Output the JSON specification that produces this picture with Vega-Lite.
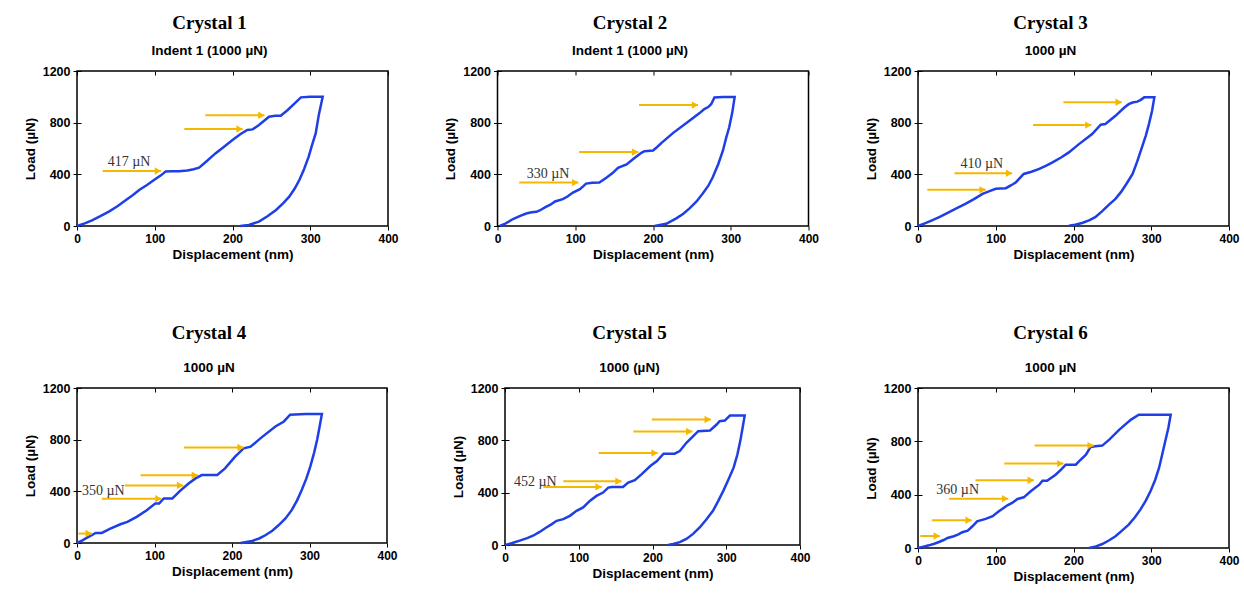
{
  "$schema": "https://vega.github.io/schema/vega-lite/v6.json",
  "padding": {"left": 22, "top": 12, "right": 0, "bottom": 0},
  "autosize": {"type": "pad"},
  "bounds": "flush",
  "spacing": 317,
  "datasets": {
    "curves": [
      {"c":1,"i":0,"x":0,"y":0},{"c":1,"i":1,"x":10,"y":20},{"c":1,"i":2,"x":20,"y":46},{"c":1,"i":3,"x":30,"y":76},{"c":1,"i":4,"x":41,"y":111},{"c":1,"i":5,"x":52,"y":153},{"c":1,"i":6,"x":63,"y":201},{"c":1,"i":7,"x":72,"y":240},{"c":1,"i":8,"x":80,"y":279},{"c":1,"i":9,"x":90,"y":318},{"c":1,"i":10,"x":99,"y":356},{"c":1,"i":11,"x":108,"y":392},{"c":1,"i":12,"x":114,"y":422},{"c":1,"i":13,"x":122,"y":424},{"c":1,"i":14,"x":131,"y":424},{"c":1,"i":15,"x":142,"y":430},{"c":1,"i":16,"x":150,"y":440},{"c":1,"i":17,"x":157,"y":452},{"c":1,"i":18,"x":166,"y":498},{"c":1,"i":19,"x":178,"y":562},{"c":1,"i":20,"x":190,"y":618},{"c":1,"i":21,"x":200,"y":666},{"c":1,"i":22,"x":210,"y":710},{"c":1,"i":23,"x":219,"y":743},{"c":1,"i":24,"x":226,"y":748},{"c":1,"i":25,"x":234,"y":782},{"c":1,"i":26,"x":247,"y":846},{"c":1,"i":27,"x":255,"y":853},{"c":1,"i":28,"x":262,"y":854},{"c":1,"i":29,"x":271,"y":898},{"c":1,"i":30,"x":280,"y":950},{"c":1,"i":31,"x":288,"y":996},{"c":1,"i":32,"x":300,"y":1000},{"c":1,"i":33,"x":316,"y":1000},{"c":1,"i":34,"x":311,"y":860},{"c":1,"i":35,"x":307,"y":717},{"c":1,"i":36,"x":302,"y":620},{"c":1,"i":37,"x":298,"y":537},{"c":1,"i":38,"x":292,"y":440},{"c":1,"i":39,"x":286,"y":356},{"c":1,"i":40,"x":280,"y":290},{"c":1,"i":41,"x":273,"y":227},{"c":1,"i":42,"x":265,"y":175},{"c":1,"i":43,"x":256,"y":124},{"c":1,"i":44,"x":245,"y":75},{"c":1,"i":45,"x":234,"y":34},{"c":1,"i":46,"x":221,"y":8},{"c":1,"i":47,"x":210,"y":0},

      {"c":2,"i":0,"x":3,"y":0},{"c":2,"i":1,"x":10,"y":18},{"c":2,"i":2,"x":20,"y":54},{"c":2,"i":3,"x":30,"y":80},{"c":2,"i":4,"x":37,"y":97},{"c":2,"i":5,"x":44,"y":106},{"c":2,"i":6,"x":50,"y":110},{"c":2,"i":7,"x":55,"y":122},{"c":2,"i":8,"x":61,"y":144},{"c":2,"i":9,"x":68,"y":165},{"c":2,"i":10,"x":74,"y":190},{"c":2,"i":11,"x":84,"y":208},{"c":2,"i":12,"x":90,"y":228},{"c":2,"i":13,"x":97,"y":259},{"c":2,"i":14,"x":106,"y":285},{"c":2,"i":15,"x":114,"y":328},{"c":2,"i":16,"x":122,"y":335},{"c":2,"i":17,"x":131,"y":336},{"c":2,"i":18,"x":140,"y":374},{"c":2,"i":19,"x":148,"y":410},{"c":2,"i":20,"x":155,"y":451},{"c":2,"i":21,"x":166,"y":477},{"c":2,"i":22,"x":175,"y":520},{"c":2,"i":23,"x":185,"y":567},{"c":2,"i":24,"x":189,"y":579},{"c":2,"i":25,"x":200,"y":585},{"c":2,"i":26,"x":205,"y":610},{"c":2,"i":27,"x":211,"y":644},{"c":2,"i":28,"x":226,"y":721},{"c":2,"i":29,"x":243,"y":797},{"c":2,"i":30,"x":260,"y":874},{"c":2,"i":31,"x":266,"y":905},{"c":2,"i":32,"x":271,"y":921},{"c":2,"i":33,"x":275,"y":945},{"c":2,"i":34,"x":279,"y":995},{"c":2,"i":35,"x":290,"y":998},{"c":2,"i":36,"x":305,"y":998},{"c":2,"i":37,"x":302,"y":880},{"c":2,"i":38,"x":298,"y":764},{"c":2,"i":39,"x":294,"y":680},{"c":2,"i":40,"x":290,"y":585},{"c":2,"i":41,"x":284,"y":480},{"c":2,"i":42,"x":277,"y":379},{"c":2,"i":43,"x":271,"y":310},{"c":2,"i":44,"x":264,"y":251},{"c":2,"i":45,"x":256,"y":190},{"c":2,"i":46,"x":247,"y":136},{"c":2,"i":47,"x":239,"y":95},{"c":2,"i":48,"x":230,"y":59},{"c":2,"i":49,"x":217,"y":17},{"c":2,"i":50,"x":202,"y":0},

      {"c":3,"i":0,"x":0,"y":0},{"c":3,"i":1,"x":8,"y":18},{"c":3,"i":2,"x":18,"y":44},{"c":3,"i":3,"x":28,"y":70},{"c":3,"i":4,"x":40,"y":108},{"c":3,"i":5,"x":50,"y":138},{"c":3,"i":6,"x":61,"y":172},{"c":3,"i":7,"x":72,"y":208},{"c":3,"i":8,"x":83,"y":249},{"c":3,"i":9,"x":92,"y":270},{"c":3,"i":10,"x":100,"y":288},{"c":3,"i":11,"x":106,"y":290},{"c":3,"i":12,"x":113,"y":293},{"c":3,"i":13,"x":120,"y":316},{"c":3,"i":14,"x":126,"y":339},{"c":3,"i":15,"x":136,"y":403},{"c":3,"i":16,"x":146,"y":420},{"c":3,"i":17,"x":156,"y":442},{"c":3,"i":18,"x":165,"y":468},{"c":3,"i":19,"x":173,"y":493},{"c":3,"i":20,"x":184,"y":530},{"c":3,"i":21,"x":194,"y":570},{"c":3,"i":22,"x":207,"y":634},{"c":3,"i":23,"x":224,"y":712},{"c":3,"i":24,"x":235,"y":784},{"c":3,"i":25,"x":241,"y":789},{"c":3,"i":26,"x":254,"y":853},{"c":3,"i":27,"x":265,"y":915},{"c":3,"i":28,"x":271,"y":943},{"c":3,"i":29,"x":276,"y":956},{"c":3,"i":30,"x":282,"y":963},{"c":3,"i":31,"x":286,"y":975},{"c":3,"i":32,"x":291,"y":996},{"c":3,"i":33,"x":304,"y":996},{"c":3,"i":34,"x":301,"y":890},{"c":3,"i":35,"x":297,"y":789},{"c":3,"i":36,"x":293,"y":700},{"c":3,"i":37,"x":288,"y":609},{"c":3,"i":38,"x":282,"y":500},{"c":3,"i":39,"x":276,"y":403},{"c":3,"i":40,"x":268,"y":325},{"c":3,"i":41,"x":261,"y":262},{"c":3,"i":42,"x":254,"y":210},{"c":3,"i":43,"x":246,"y":167},{"c":3,"i":44,"x":237,"y":115},{"c":3,"i":45,"x":228,"y":69},{"c":3,"i":46,"x":220,"y":44},{"c":3,"i":47,"x":211,"y":23},{"c":3,"i":48,"x":202,"y":10},{"c":3,"i":49,"x":194,"y":3},

      {"c":4,"i":0,"x":0,"y":0},{"c":4,"i":1,"x":7,"y":20},{"c":4,"i":2,"x":13,"y":41},{"c":4,"i":3,"x":19,"y":60},{"c":4,"i":4,"x":24,"y":78},{"c":4,"i":5,"x":32,"y":78},{"c":4,"i":6,"x":43,"y":111},{"c":4,"i":7,"x":56,"y":145},{"c":4,"i":8,"x":65,"y":163},{"c":4,"i":9,"x":77,"y":202},{"c":4,"i":10,"x":90,"y":254},{"c":4,"i":11,"x":101,"y":306},{"c":4,"i":12,"x":106,"y":306},{"c":4,"i":13,"x":112,"y":345},{"c":4,"i":14,"x":123,"y":345},{"c":4,"i":15,"x":133,"y":404},{"c":4,"i":16,"x":144,"y":461},{"c":4,"i":17,"x":153,"y":500},{"c":4,"i":18,"x":161,"y":526},{"c":4,"i":19,"x":181,"y":526},{"c":4,"i":20,"x":191,"y":578},{"c":4,"i":21,"x":204,"y":669},{"c":4,"i":22,"x":215,"y":733},{"c":4,"i":23,"x":224,"y":746},{"c":4,"i":24,"x":237,"y":812},{"c":4,"i":25,"x":256,"y":902},{"c":4,"i":26,"x":267,"y":941},{"c":4,"i":27,"x":275,"y":993},{"c":4,"i":28,"x":295,"y":998},{"c":4,"i":29,"x":316,"y":998},{"c":4,"i":30,"x":313,"y":900},{"c":4,"i":31,"x":310,"y":803},{"c":4,"i":32,"x":306,"y":700},{"c":4,"i":33,"x":301,"y":591},{"c":4,"i":34,"x":296,"y":500},{"c":4,"i":35,"x":290,"y":410},{"c":4,"i":36,"x":284,"y":330},{"c":4,"i":37,"x":277,"y":254},{"c":4,"i":38,"x":269,"y":190},{"c":4,"i":39,"x":260,"y":137},{"c":4,"i":40,"x":252,"y":95},{"c":4,"i":41,"x":243,"y":60},{"c":4,"i":42,"x":235,"y":35},{"c":4,"i":43,"x":226,"y":16},{"c":4,"i":44,"x":211,"y":0},

      {"c":5,"i":0,"x":0,"y":0},{"c":5,"i":1,"x":10,"y":15},{"c":5,"i":2,"x":20,"y":33},{"c":5,"i":3,"x":30,"y":52},{"c":5,"i":4,"x":38,"y":71},{"c":5,"i":5,"x":47,"y":100},{"c":5,"i":6,"x":56,"y":134},{"c":5,"i":7,"x":63,"y":158},{"c":5,"i":8,"x":70,"y":185},{"c":5,"i":9,"x":79,"y":198},{"c":5,"i":10,"x":88,"y":223},{"c":5,"i":11,"x":97,"y":261},{"c":5,"i":12,"x":106,"y":287},{"c":5,"i":13,"x":115,"y":337},{"c":5,"i":14,"x":124,"y":375},{"c":5,"i":15,"x":133,"y":401},{"c":5,"i":16,"x":140,"y":439},{"c":5,"i":17,"x":145,"y":444},{"c":5,"i":18,"x":160,"y":444},{"c":5,"i":19,"x":167,"y":477},{"c":5,"i":20,"x":176,"y":495},{"c":5,"i":21,"x":185,"y":540},{"c":5,"i":22,"x":197,"y":604},{"c":5,"i":23,"x":206,"y":642},{"c":5,"i":24,"x":215,"y":698},{"c":5,"i":25,"x":230,"y":698},{"c":5,"i":26,"x":237,"y":718},{"c":5,"i":27,"x":246,"y":781},{"c":5,"i":28,"x":262,"y":870},{"c":5,"i":29,"x":278,"y":875},{"c":5,"i":30,"x":287,"y":921},{"c":5,"i":31,"x":291,"y":946},{"c":5,"i":32,"x":298,"y":951},{"c":5,"i":33,"x":305,"y":989},{"c":5,"i":34,"x":325,"y":989},{"c":5,"i":35,"x":322,"y":890},{"c":5,"i":36,"x":319,"y":794},{"c":5,"i":37,"x":315,"y":690},{"c":5,"i":38,"x":310,"y":591},{"c":5,"i":39,"x":303,"y":500},{"c":5,"i":40,"x":296,"y":414},{"c":5,"i":41,"x":289,"y":335},{"c":5,"i":42,"x":282,"y":261},{"c":5,"i":43,"x":273,"y":195},{"c":5,"i":44,"x":264,"y":134},{"c":5,"i":45,"x":255,"y":85},{"c":5,"i":46,"x":246,"y":46},{"c":5,"i":47,"x":237,"y":22},{"c":5,"i":48,"x":228,"y":8},{"c":5,"i":49,"x":221,"y":0},

      {"c":6,"i":0,"x":0,"y":0},{"c":6,"i":1,"x":7,"y":10},{"c":6,"i":2,"x":14,"y":20},{"c":6,"i":3,"x":21,"y":32},{"c":6,"i":4,"x":27,"y":45},{"c":6,"i":5,"x":33,"y":60},{"c":6,"i":6,"x":38,"y":75},{"c":6,"i":7,"x":46,"y":88},{"c":6,"i":8,"x":52,"y":102},{"c":6,"i":9,"x":57,"y":118},{"c":6,"i":10,"x":64,"y":130},{"c":6,"i":11,"x":70,"y":163},{"c":6,"i":12,"x":76,"y":200},{"c":6,"i":13,"x":87,"y":218},{"c":6,"i":14,"x":96,"y":238},{"c":6,"i":15,"x":104,"y":275},{"c":6,"i":16,"x":115,"y":320},{"c":6,"i":17,"x":121,"y":338},{"c":6,"i":18,"x":128,"y":368},{"c":6,"i":19,"x":136,"y":380},{"c":6,"i":20,"x":145,"y":425},{"c":6,"i":21,"x":156,"y":475},{"c":6,"i":22,"x":160,"y":505},{"c":6,"i":23,"x":166,"y":505},{"c":6,"i":24,"x":177,"y":550},{"c":6,"i":25,"x":184,"y":588},{"c":6,"i":26,"x":190,"y":625},{"c":6,"i":27,"x":203,"y":625},{"c":6,"i":28,"x":207,"y":650},{"c":6,"i":29,"x":216,"y":700},{"c":6,"i":30,"x":222,"y":758},{"c":6,"i":31,"x":228,"y":763},{"c":6,"i":32,"x":237,"y":768},{"c":6,"i":33,"x":246,"y":813},{"c":6,"i":34,"x":259,"y":888},{"c":6,"i":35,"x":274,"y":963},{"c":6,"i":36,"x":284,"y":1000},{"c":6,"i":37,"x":325,"y":1000},{"c":6,"i":38,"x":322,"y":900},{"c":6,"i":39,"x":318,"y":800},{"c":6,"i":40,"x":314,"y":700},{"c":6,"i":41,"x":310,"y":600},{"c":6,"i":42,"x":305,"y":510},{"c":6,"i":43,"x":299,"y":425},{"c":6,"i":44,"x":293,"y":355},{"c":6,"i":45,"x":286,"y":288},{"c":6,"i":46,"x":279,"y":230},{"c":6,"i":47,"x":271,"y":175},{"c":6,"i":48,"x":262,"y":128},{"c":6,"i":49,"x":254,"y":88},{"c":6,"i":50,"x":246,"y":58},{"c":6,"i":51,"x":237,"y":30},{"c":6,"i":52,"x":229,"y":12},{"c":6,"i":53,"x":220,"y":0}
    ],
    "arrows": [
      {"c":1,"x1":33,"x2":108,"y":426},{"c":1,"x1":138,"x2":213,"y":751},{"c":1,"x1":165,"x2":241,"y":857},
      {"c":2,"x1":28,"x2":104,"y":336},{"c":2,"x1":105,"x2":181,"y":572},{"c":2,"x1":182,"x2":258,"y":936},
      {"c":3,"x1":12,"x2":87,"y":280},{"c":3,"x1":47,"x2":121,"y":408},{"c":3,"x1":148,"x2":223,"y":781},{"c":3,"x1":187,"x2":262,"y":958},
      {"c":4,"x1":2,"x2":19,"y":73},{"c":4,"x1":32,"x2":109,"y":342},{"c":4,"x1":62,"x2":137,"y":446},{"c":4,"x1":82,"x2":156,"y":524},{"c":4,"x1":138,"x2":215,"y":739},
      {"c":5,"x1":52,"x2":131,"y":444},{"c":5,"x1":79,"x2":158,"y":487},{"c":5,"x1":127,"x2":207,"y":703},{"c":5,"x1":174,"x2":254,"y":868},{"c":5,"x1":199,"x2":279,"y":959},
      {"c":6,"x1":3,"x2":28,"y":90},{"c":6,"x1":18,"x2":69,"y":208},{"c":6,"x1":40,"x2":116,"y":370},{"c":6,"x1":74,"x2":149,"y":508},{"c":6,"x1":111,"x2":187,"y":633},{"c":6,"x1":150,"x2":226,"y":768}
    ],
    "notes": [
      {"c":1,"x":67,"y":493,"label":"417 µN"},
      {"c":2,"x":65,"y":405,"label":"330 µN"},
      {"c":3,"x":82,"y":480,"label":"410 µN"},
      {"c":4,"x":34,"y":404,"label":"350 µN"},
      {"c":5,"x":41,"y":482,"label":"452 µN"},
      {"c":6,"x":51,"y":437,"label":"360 µN"}
    ]
  },
  "vconcat": [
    {
      "bounds": "flush",
      "spacing": 109.5,
      "hconcat": [
        {
          "title": {"text": "Crystal 1", "subtitle": "Indent 1 (1000 µN)"},
          "width": 311, "height": 155,
          "layer": [
            {"data": {"name": "curves"}, "transform": [{"filter": "datum.c == 1"}], "mark": {"type": "line", "color": "#1f3fe6", "strokeWidth": 2.5},
             "encoding": {
               "x": {"field": "x", "type": "quantitative", "scale": {"domain": [0, 400], "nice": false}, "axis": {"title": "Displacement (nm)", "values": [0,100,200,300,400], "ticks": true, "tickSize": 4, "grid": true, "gridDash": [4, 1000], "labelOverlap": false}},
               "y": {"field": "y", "type": "quantitative", "scale": {"domain": [0, 1200], "nice": false}, "axis": {"title": "Load (µN)", "values": [0,600,1200,200,800,400,1000], "ticks": true, "tickSize": 4, "grid": true, "gridDash": [4, 1000], "labelOverlap": false}},
               "order": {"field": "i", "type": "quantitative"}
             }},
            {"data": {"name": "arrows"}, "transform": [{"filter": "datum.c == 1"}], "mark": {"type": "rule", "color": "#f5b800", "strokeWidth": 2},
             "encoding": {"x": {"field": "x1", "type": "quantitative"}, "x2": {"field": "x2"}, "y": {"field": "y", "type": "quantitative"}}},
            {"data": {"name": "arrows"}, "transform": [{"filter": "datum.c == 1"}], "mark": {"type": "point", "shape": "triangle-right", "filled": true, "size": 55, "color": "#f5b800", "opacity": 1, "xOffset": -3},
             "encoding": {"x": {"field": "x2", "type": "quantitative"}, "y": {"field": "y", "type": "quantitative"}}},
            {"data": {"name": "notes"}, "transform": [{"filter": "datum.c == 1"}], "mark": {"type": "text", "font": "Liberation Serif", "fontSize": 14, "color": "#333333"},
             "encoding": {"x": {"field": "x", "type": "quantitative"}, "y": {"field": "y", "type": "quantitative"}, "text": {"field": "label"}}}
          ]
        },
        {
          "title": {"text": "Crystal 2", "subtitle": "Indent 1 (1000 µN)"},
          "width": 311, "height": 155,
          "layer": [
            {"data": {"name": "curves"}, "transform": [{"filter": "datum.c == 2"}], "mark": {"type": "line", "color": "#1f3fe6", "strokeWidth": 2.5},
             "encoding": {
               "x": {"field": "x", "type": "quantitative", "scale": {"domain": [0, 400], "nice": false}, "axis": {"title": "Displacement (nm)", "values": [0,100,200,300,400], "ticks": true, "tickSize": 4, "grid": true, "gridDash": [4, 1000], "labelOverlap": false}},
               "y": {"field": "y", "type": "quantitative", "scale": {"domain": [0, 1200], "nice": false}, "axis": {"title": "Load (µN)", "values": [0,600,1200,200,800,400,1000], "ticks": true, "tickSize": 4, "grid": true, "gridDash": [4, 1000], "labelOverlap": false}},
               "order": {"field": "i", "type": "quantitative"}
             }},
            {"data": {"name": "arrows"}, "transform": [{"filter": "datum.c == 2"}], "mark": {"type": "rule", "color": "#f5b800", "strokeWidth": 2},
             "encoding": {"x": {"field": "x1", "type": "quantitative"}, "x2": {"field": "x2"}, "y": {"field": "y", "type": "quantitative"}}},
            {"data": {"name": "arrows"}, "transform": [{"filter": "datum.c == 2"}], "mark": {"type": "point", "shape": "triangle-right", "filled": true, "size": 55, "color": "#f5b800", "opacity": 1, "xOffset": -3},
             "encoding": {"x": {"field": "x2", "type": "quantitative"}, "y": {"field": "y", "type": "quantitative"}}},
            {"data": {"name": "notes"}, "transform": [{"filter": "datum.c == 2"}], "mark": {"type": "text", "font": "Liberation Serif", "fontSize": 14, "color": "#333333"},
             "encoding": {"x": {"field": "x", "type": "quantitative"}, "y": {"field": "y", "type": "quantitative"}, "text": {"field": "label"}}}
          ]
        },
        {
          "title": {"text": "Crystal 3", "subtitle": "1000 µN"},
          "width": 311, "height": 155,
          "layer": [
            {"data": {"name": "curves"}, "transform": [{"filter": "datum.c == 3"}], "mark": {"type": "line", "color": "#1f3fe6", "strokeWidth": 2.5},
             "encoding": {
               "x": {"field": "x", "type": "quantitative", "scale": {"domain": [0, 400], "nice": false}, "axis": {"title": "Displacement (nm)", "values": [0,100,200,300,400], "ticks": true, "tickSize": 4, "grid": true, "gridDash": [4, 1000], "labelOverlap": false}},
               "y": {"field": "y", "type": "quantitative", "scale": {"domain": [0, 1200], "nice": false}, "axis": {"title": "Load (µN)", "values": [0,600,1200,200,800,400,1000], "ticks": true, "tickSize": 4, "grid": true, "gridDash": [4, 1000], "labelOverlap": false}},
               "order": {"field": "i", "type": "quantitative"}
             }},
            {"data": {"name": "arrows"}, "transform": [{"filter": "datum.c == 3"}], "mark": {"type": "rule", "color": "#f5b800", "strokeWidth": 2},
             "encoding": {"x": {"field": "x1", "type": "quantitative"}, "x2": {"field": "x2"}, "y": {"field": "y", "type": "quantitative"}}},
            {"data": {"name": "arrows"}, "transform": [{"filter": "datum.c == 3"}], "mark": {"type": "point", "shape": "triangle-right", "filled": true, "size": 55, "color": "#f5b800", "opacity": 1, "xOffset": -3},
             "encoding": {"x": {"field": "x2", "type": "quantitative"}, "y": {"field": "y", "type": "quantitative"}}},
            {"data": {"name": "notes"}, "transform": [{"filter": "datum.c == 3"}], "mark": {"type": "text", "font": "Liberation Serif", "fontSize": 14, "color": "#333333"},
             "encoding": {"x": {"field": "x", "type": "quantitative"}, "y": {"field": "y", "type": "quantitative"}, "text": {"field": "label"}}}
          ]
        }
      ]
    },
    {
      "bounds": "flush",
      "spacing": 118,
      "hconcat": [
        {
          "title": {"text": "Crystal 4", "subtitle": "1000 µN", "subtitlePadding": 18},
          "width": 310, "height": 155,
          "layer": [
            {"data": {"name": "curves"}, "transform": [{"filter": "datum.c == 4"}], "mark": {"type": "line", "color": "#1f3fe6", "strokeWidth": 2.5},
             "encoding": {
               "x": {"field": "x", "type": "quantitative", "scale": {"domain": [0, 400], "nice": false}, "axis": {"title": "Displacement (nm)", "values": [0,100,200,300,400], "ticks": true, "tickSize": 4, "grid": true, "gridDash": [4, 1000], "labelOverlap": false}},
               "y": {"field": "y", "type": "quantitative", "scale": {"domain": [0, 1200], "nice": false}, "axis": {"title": "Load (µN)", "values": [0,600,1200,200,800,400,1000], "ticks": true, "tickSize": 4, "grid": true, "gridDash": [4, 1000], "labelOverlap": false}},
               "order": {"field": "i", "type": "quantitative"}
             }},
            {"data": {"name": "arrows"}, "transform": [{"filter": "datum.c == 4"}], "mark": {"type": "rule", "color": "#f5b800", "strokeWidth": 2},
             "encoding": {"x": {"field": "x1", "type": "quantitative"}, "x2": {"field": "x2"}, "y": {"field": "y", "type": "quantitative"}}},
            {"data": {"name": "arrows"}, "transform": [{"filter": "datum.c == 4"}], "mark": {"type": "point", "shape": "triangle-right", "filled": true, "size": 55, "color": "#f5b800", "opacity": 1, "xOffset": -3},
             "encoding": {"x": {"field": "x2", "type": "quantitative"}, "y": {"field": "y", "type": "quantitative"}}},
            {"data": {"name": "notes"}, "transform": [{"filter": "datum.c == 4"}], "mark": {"type": "text", "font": "Liberation Serif", "fontSize": 14, "color": "#333333"},
             "encoding": {"x": {"field": "x", "type": "quantitative"}, "y": {"field": "y", "type": "quantitative"}, "text": {"field": "label"}}}
          ]
        },
        {
          "title": {"text": "Crystal 5", "subtitle": "1000 (µN)", "subtitlePadding": 18},
          "width": 295, "height": 157,
          "layer": [
            {"data": {"name": "curves"}, "transform": [{"filter": "datum.c == 5"}], "mark": {"type": "line", "color": "#1f3fe6", "strokeWidth": 2.5},
             "encoding": {
               "x": {"field": "x", "type": "quantitative", "scale": {"domain": [0, 400], "nice": false}, "axis": {"title": "Displacement (nm)", "values": [0,100,200,300,400], "ticks": true, "tickSize": 4, "grid": true, "gridDash": [4, 1000], "labelOverlap": false}},
               "y": {"field": "y", "type": "quantitative", "scale": {"domain": [0, 1200], "nice": false}, "axis": {"title": "Load (µN)", "values": [0,600,1200,200,800,400,1000], "ticks": true, "tickSize": 4, "grid": true, "gridDash": [4, 1000], "labelOverlap": false}},
               "order": {"field": "i", "type": "quantitative"}
             }},
            {"data": {"name": "arrows"}, "transform": [{"filter": "datum.c == 5"}], "mark": {"type": "rule", "color": "#f5b800", "strokeWidth": 2},
             "encoding": {"x": {"field": "x1", "type": "quantitative"}, "x2": {"field": "x2"}, "y": {"field": "y", "type": "quantitative"}}},
            {"data": {"name": "arrows"}, "transform": [{"filter": "datum.c == 5"}], "mark": {"type": "point", "shape": "triangle-right", "filled": true, "size": 55, "color": "#f5b800", "opacity": 1, "xOffset": -3},
             "encoding": {"x": {"field": "x2", "type": "quantitative"}, "y": {"field": "y", "type": "quantitative"}}},
            {"data": {"name": "notes"}, "transform": [{"filter": "datum.c == 5"}], "mark": {"type": "text", "font": "Liberation Serif", "fontSize": 14, "color": "#333333"},
             "encoding": {"x": {"field": "x", "type": "quantitative"}, "y": {"field": "y", "type": "quantitative"}, "text": {"field": "label"}}}
          ]
        },
        {
          "title": {"text": "Crystal 6", "subtitle": "1000 µN", "subtitlePadding": 18},
          "width": 311, "height": 160,
          "layer": [
            {"data": {"name": "curves"}, "transform": [{"filter": "datum.c == 6"}], "mark": {"type": "line", "color": "#1f3fe6", "strokeWidth": 2.5},
             "encoding": {
               "x": {"field": "x", "type": "quantitative", "scale": {"domain": [0, 400], "nice": false}, "axis": {"title": "Displacement (nm)", "values": [0,100,200,300,400], "ticks": true, "tickSize": 4, "grid": true, "gridDash": [4, 1000], "labelOverlap": false}},
               "y": {"field": "y", "type": "quantitative", "scale": {"domain": [0, 1200], "nice": false}, "axis": {"title": "Load (µN)", "values": [0,600,1200,200,800,400,1000], "ticks": true, "tickSize": 4, "grid": true, "gridDash": [4, 1000], "labelOverlap": false}},
               "order": {"field": "i", "type": "quantitative"}
             }},
            {"data": {"name": "arrows"}, "transform": [{"filter": "datum.c == 6"}], "mark": {"type": "rule", "color": "#f5b800", "strokeWidth": 2},
             "encoding": {"x": {"field": "x1", "type": "quantitative"}, "x2": {"field": "x2"}, "y": {"field": "y", "type": "quantitative"}}},
            {"data": {"name": "arrows"}, "transform": [{"filter": "datum.c == 6"}], "mark": {"type": "point", "shape": "triangle-right", "filled": true, "size": 55, "color": "#f5b800", "opacity": 1, "xOffset": -3},
             "encoding": {"x": {"field": "x2", "type": "quantitative"}, "y": {"field": "y", "type": "quantitative"}}},
            {"data": {"name": "notes"}, "transform": [{"filter": "datum.c == 6"}], "mark": {"type": "text", "font": "Liberation Serif", "fontSize": 14, "color": "#333333"},
             "encoding": {"x": {"field": "x", "type": "quantitative"}, "y": {"field": "y", "type": "quantitative"}, "text": {"field": "label"}}}
          ]
        }
      ]
    }
  ],
  "config": {
    "background": "white",
    "view": {"stroke": "black", "strokeWidth": 1.5},
    "axis": {
      "domain": false,
      "format": "d",
      "labelFlush": false,
      "tickColor": "black",
      "gridColor": "black",
      "labelFont": "Liberation Sans",
      "labelFontWeight": "bold",
      "labelColor": "black",
      "labelPadding": 3,
      "titleFont": "Liberation Sans",
      "titleFontWeight": "bold",
      "titleFontSize": 13.5,
      "titleColor": "black"
    },
    "axisX": {"labelFontSize": 12, "titlePadding": 3},
    "axisY": {"labelFontSize": 12.5, "titlePadding": 5},
    "title": {
      "font": "Liberation Serif",
      "fontSize": 19,
      "fontWeight": "bold",
      "color": "black",
      "subtitleFont": "Liberation Sans",
      "subtitleFontSize": 13.5,
      "subtitleFontWeight": "bold",
      "subtitleColor": "black",
      "subtitlePadding": 11,
      "anchor": "middle",
      "frame": "group",
      "dx": -23,
      "offset": 8
    }
  }
}
